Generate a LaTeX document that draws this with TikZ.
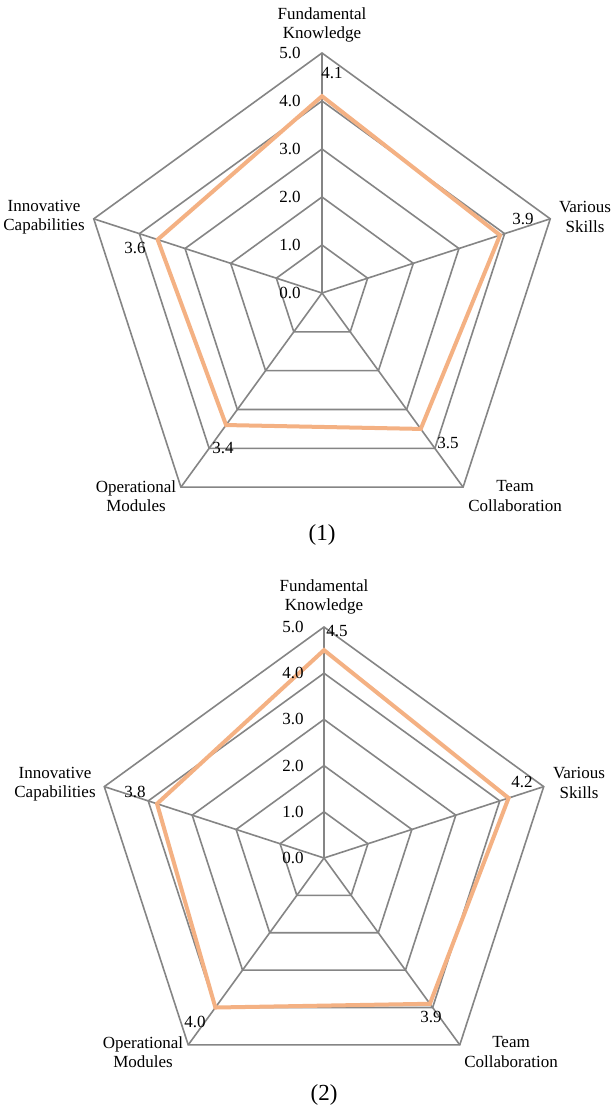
\documentclass[tikz,border=0pt]{standalone}
\usepackage{fontspec}
\setmainfont{Liberation Serif}
\definecolor{gridgray}{HTML}{858585}
\definecolor{seriesorange}{HTML}{F4B183}
% Five-axis radar chart: #1,#2 centre, #3 length of one unit,
% #4..#8 values for the axes at 90, 18, -54, -126 and 162 degrees
\newcommand\drawradar[8]{%
  \begin{scope}[shift={(#1,#2)}, y=1pt]
    \foreach \k in {1,...,5}
      \draw[gridline] ({90}:{\k*#3}) -- ({18}:{\k*#3}) -- ({-54}:{\k*#3})
        -- ({-126}:{\k*#3}) -- ({162}:{\k*#3}) -- cycle;
    \foreach \a in {90,18,-54,-126,162}
      \draw[gridline] (0,0) -- ({\a}:{5*#3});
    \draw[series] ({90}:{#4*#3}) -- ({18}:{#5*#3}) -- ({-54}:{#6*#3})
      -- ({-126}:{#7*#3}) -- ({162}:{#8*#3}) -- cycle;
  \end{scope}}
\begin{document}
\begin{tikzpicture}[x=1pt, y=-1pt,
  gridline/.style={draw=gridgray, line width=1.6pt, line join=miter},
  series/.style={draw=seriesorange, line width=4pt, line join=miter},
  lbl/.style={font=\fontsize{17}{19.5}\selectfont, align=center, inner sep=0pt},
  val/.style={font=\fontsize{17}{19.5}\selectfont, inner sep=0pt},
  caption/.style={font=\fontsize{23}{26}\selectfont, inner sep=0pt}]
\useasboundingbox[fill=white] (0,0) rectangle (612,1111);

% ---------- chart (1) ----------
\drawradar{322}{293}{48}{4.1}{3.9}{3.5}{3.4}{3.6}
\foreach \k in {0,...,5}
  \node[val] (tickA\k) at (290,{293-48*\k}) {\k.0};
\node[lbl] (fkA) at (322,25) {Fundamental\\Knowledge};
\node[lbl] (icA) at (44,217) {Innovative\\Capabilities};
\node[lbl] (vsA) at (585,217) {Various\\Skills};
\node[lbl] (omA) at (136,496) {Operational\\Modules};
\node[lbl] (tcA) at (515,496) {Team\\Collaboration};
\node[val] (vfkA) at (332,73) {4.1};
\node[val] (vvsA) at (523,219) {3.9};
\node[val] (vtcA) at (448,443) {3.5};
\node[val] (vomA) at (223,448) {3.4};
\node[val] (vicA) at (135,248) {3.6};
\node[caption] (capA) at (322,535) {(1)};

% ---------- chart (2) ----------
\drawradar{324}{858}{46.2}{4.5}{4.2}{3.9}{4.0}{3.8}
\foreach \k in {0,...,5}
  \node[val] (tickB\k) at (293,{858-46.2*\k}) {\k.0};
\node[lbl] (fkB) at (324,597) {Fundamental\\Knowledge};
\node[lbl] (icB) at (55,784) {Innovative\\Capabilities};
\node[lbl] (vsB) at (579,783) {Various\\Skills};
\node[lbl] (omB) at (143,1052) {Operational\\Modules};
\node[lbl] (tcB) at (511,1052) {Team\\Collaboration};
\node[val] (vfkB) at (337,631) {4.5};
\node[val] (vvsB) at (522,782) {4.2};
\node[val] (vtcB) at (431,1017) {3.9};
\node[val] (vomB) at (195,1022) {4.0};
\node[val] (vicB) at (135,792) {3.8};
\node[caption] (capB) at (324,1095) {(2)};
\end{tikzpicture}
\end{document}
